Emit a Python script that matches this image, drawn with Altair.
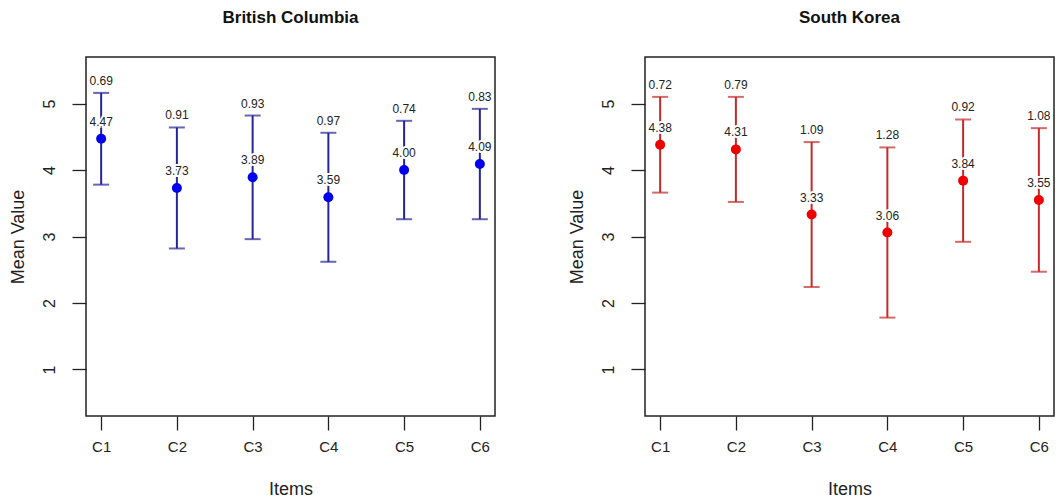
import altair as alt
import pandas as pd

items = ["C1", "C2", "C3", "C4", "C5", "C6"]
item_index = [1, 2, 3, 4, 5, 6]
bc_mean = [4.47, 3.73, 3.89, 3.59, 4.00, 4.09]
bc_sd = [0.69, 0.91, 0.93, 0.97, 0.74, 0.83]
sk_mean = [4.38, 4.31, 3.33, 3.06, 3.84, 3.55]
sk_sd = [0.72, 0.79, 1.09, 1.28, 0.92, 1.08]

FONT = "Liberation Sans"


def panel(title, means, sds, line_color, point_color):
    df = pd.DataFrame({"idx": item_index, "item": items, "mean": means, "sd": sds})
    df["lo"] = df["mean"] - df["sd"]
    df["hi"] = df["mean"] + df["sd"]
    df["mean_lbl"] = df["mean"].map(lambda v: f"{v:.2f}")
    df["sd_lbl"] = df["sd"].map(lambda v: f"{v:.2f}")

    xscale = alt.Scale(domain=[0.8, 6.2], nice=False, zero=False)
    yscale = alt.Scale(domain=[0.3, 5.7], nice=False, zero=False)
    xaxis = alt.Axis(values=item_index, labelExpr="'C' + datum.value", title="Items",
                     grid=False, domain=False, tickSize=14, tickWidth=1.3, tickColor="#222",
                     labelFontSize=15, labelPadding=9, labelColor="#222", labelFont=FONT,
                     titleFontSize=18, titleFontWeight="normal", titleFont=FONT, titleColor="#222",
                     titleY=73, titleBaseline="middle")
    yaxis = alt.Axis(values=[1, 2, 3, 4, 5], title="Mean Value", grid=False, domain=False,
                     tickSize=14, tickWidth=1.3, tickColor="#222",
                     labelFontSize=16, labelAngle=270, labelAlign="center", labelBaseline="bottom",
                     labelPadding=15, labelColor="#222", labelFont=FONT,
                     titleFontSize=18, titleFontWeight="normal", titleFont=FONT, titleColor="#222",
                     titleAngle=270, titleX=-68, titleBaseline="middle")

    x = alt.X("idx:Q", scale=xscale, axis=xaxis)
    base = alt.Chart(df)

    rule = base.mark_rule(color=line_color, strokeWidth=2).encode(
        x=x, y=alt.Y("lo:Q", scale=yscale, axis=yaxis), y2="hi:Q")
    cap_hi = base.mark_tick(orient="horizontal", size=16, thickness=2, color=line_color).encode(
        x=x, y=alt.Y("hi:Q", scale=yscale, axis=yaxis))
    cap_lo = base.mark_tick(orient="horizontal", size=16, thickness=2, color=line_color).encode(
        x=x, y=alt.Y("lo:Q", scale=yscale, axis=yaxis))
    halo = base.mark_text(fontSize=12, font=FONT, dy=-17, stroke="white", strokeWidth=4,
                          color="white", baseline="middle").encode(
        x=x, y=alt.Y("mean:Q", scale=yscale, axis=yaxis), text="mean_lbl:N")
    mean_txt = base.mark_text(fontSize=12, font=FONT, dy=-17, color="#222", baseline="middle").encode(
        x=x, y=alt.Y("mean:Q", scale=yscale, axis=yaxis), text="mean_lbl:N")
    sd_txt = base.mark_text(fontSize=12, font=FONT, dy=-12, color="#222", baseline="middle").encode(
        x=x, y=alt.Y("hi:Q", scale=yscale, axis=yaxis), text="sd_lbl:N")
    pts = base.mark_circle(size=100, opacity=1, color=point_color).encode(
        x=x, y=alt.Y("mean:Q", scale=yscale, axis=yaxis))

    return alt.layer(rule, cap_hi, cap_lo, halo, mean_txt, sd_txt, pts).properties(
        width=409, height=359,
        title=alt.TitleParams(title, fontSize=17, fontWeight="bold", font=FONT, color="#111",
                              anchor="middle", offset=30))


left = panel("British Columbia", bc_mean, bc_sd, "#25259a", "#0000ee")
right = panel("South Korea", sk_mean, sk_sd, "#c42a2a", "#ee0000")

chart = alt.hconcat(left, right, spacing=71).properties(
    padding={"left": 8, "top": 8, "right": 0, "bottom": 0}
).configure(background="white").configure_view(stroke="#222", strokeWidth=1.5)

chart.save("out.html", embed_options={"renderer": "svg", "actions": False})
